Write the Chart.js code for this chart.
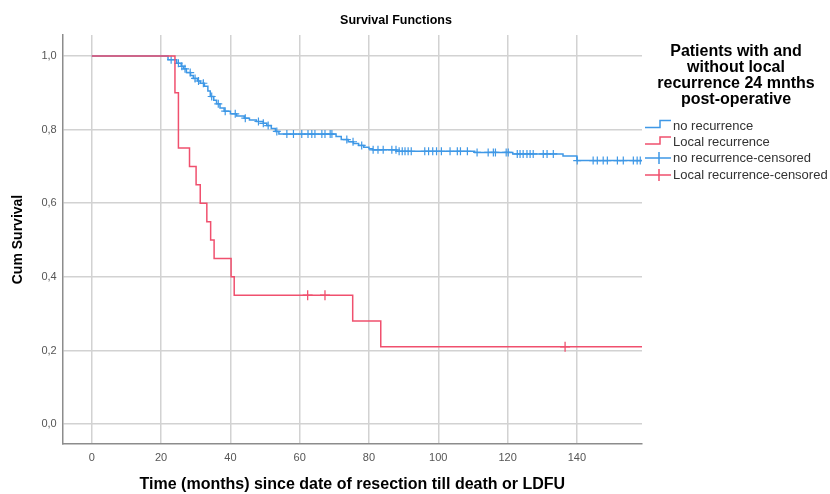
<!DOCTYPE html>
<html><head><meta charset="utf-8">
<script src="https://cdn.jsdelivr.net/npm/chart.js@4.4.0/dist/chart.umd.min.js"></script>
<style>
body{margin:0;background:#fff;}
#wrap{position:relative;width:830px;height:494px;font-family:"Liberation Sans",Arial,sans-serif;overflow:hidden;}
canvas{position:absolute;left:0;top:0;}
#title{position:absolute;left:296px;width:200px;top:12px;text-align:center;font-weight:bold;font-size:12.5px;line-height:16px;color:#000;}
#ltitle{position:absolute;left:640px;width:192px;top:43px;text-align:center;font-weight:bold;font-size:16px;line-height:16px;color:#000;}
.item{position:absolute;left:645px;height:16px;width:185px;font-size:13px;line-height:16px;color:#333;white-space:nowrap;}
.item svg{position:absolute;left:0;top:0;}
.item span{position:absolute;left:28px;top:0;}
</style>
</head><body>
<div id="wrap">
<canvas id="c" width="830" height="494"></canvas>
<div id="title">Survival Functions</div>
<div id="ltitle">Patients with and<br>without local<br>recurrence 24 mnths<br>post-operative</div>
<div class="item" style="top:118px"><svg width="26" height="16"><path d="M0 9.5 H15 V2.5 H26" fill="none" stroke="#3f98e6" stroke-width="1.5"/></svg><span>no recurrence</span></div>
<div class="item" style="top:134px"><svg width="26" height="16"><path d="M0 10 H15 V3 H26" fill="none" stroke="#f0506e" stroke-width="1.5"/></svg><span>Local recurrence</span></div>
<div class="item" style="top:150px"><svg width="26" height="16"><path d="M0 8 H26 M14 2 V14" fill="none" stroke="#3f98e6" stroke-width="1.5"/></svg><span>no recurrence-censored</span></div>
<div class="item" style="top:167px"><svg width="26" height="16"><path d="M0 8 H26 M14 2 V14" fill="none" stroke="#f0506e" stroke-width="1.5"/></svg><span>Local recurrence-censored</span></div>
</div>
<script>
// ---- data ----
const xTicks = [0, 20, 40, 60, 80, 100, 120, 140];
const yTicks = [0, 0.2, 0.4, 0.6, 0.8, 1.0];

const blueTimes = [0, 22, 24.5, 25.8, 26.5, 27.3, 28.5, 29.3, 30.5, 31.3, 32.5, 33.5, 34.2, 35.2, 36, 37, 38.2, 40, 41.8, 44, 45.5, 47.5, 49.5, 50.5, 51.8, 53, 54, 70.5, 72, 74, 75.5, 77, 78.5, 80, 81, 88, 110.5, 121.5, 136, 140, 158.8];
const blueSurv  = [1, 0.99, 0.98, 0.972, 0.965, 0.955, 0.947, 0.939, 0.932, 0.926, 0.918, 0.905, 0.89, 0.88, 0.87, 0.859, 0.85, 0.843, 0.837, 0.831, 0.826, 0.822, 0.817, 0.811, 0.803, 0.795, 0.788, 0.781, 0.773, 0.767, 0.762, 0.757, 0.752, 0.748, 0.745, 0.741, 0.738, 0.734, 0.728, 0.716, 0.716];

const blueCensT = [22.9, 25, 26, 26.9, 28.4, 29.8, 30.8, 32.2, 34.6, 36.5, 38.5, 41.4, 44.3, 48.1, 49.5, 50.9, 53.4,
  56.3, 58.2, 60.6, 62.4, 63.5, 64.4, 66.4, 67.3, 68.8, 69.3,
  73.6, 75.4, 77.9,
  81.2, 82.6, 84.1, 86.6, 87.8,
  88.7, 89.6, 90.4, 91.3, 92.2, 96.1, 97.2, 98.4, 99.5, 100.9, 103.4, 105.5, 106.4, 108.4,
  111.2, 114.4, 115.9, 116.5, 119.6, 120.2,
  122.8, 123.6, 124.5, 125.6, 126.5, 127.4, 130.3, 131.4, 133.2,
  140.1, 144.7, 145.9, 147.6, 148.8, 151.7, 153.4, 156.3, 157.4, 158.3];
const blueCensS = [0.99, 0.98, 0.972, 0.965, 0.955, 0.939, 0.932, 0.926, 0.89, 0.87, 0.85, 0.843, 0.831, 0.822, 0.817, 0.811, 0.795,
  0.788, 0.788, 0.788, 0.788, 0.788, 0.788, 0.788, 0.788, 0.788, 0.788,
  0.773, 0.767, 0.757,
  0.745, 0.745, 0.745, 0.745, 0.745,
  0.741, 0.741, 0.741, 0.741, 0.741, 0.741, 0.741, 0.741, 0.741, 0.741, 0.741, 0.741, 0.741, 0.741,
  0.738, 0.738, 0.738, 0.738, 0.738, 0.738,
  0.734, 0.734, 0.734, 0.734, 0.734, 0.734, 0.734, 0.734, 0.734,
  0.716, 0.716, 0.716, 0.716, 0.716, 0.716, 0.716, 0.716, 0.716, 0.716];

const redTimes = [0, 24, 25, 28.2, 30.1, 31.3, 33.2, 34.3, 35.3, 40.2, 41.1, 75.3, 83.4, 158.8];
const redSurv  = [1, 0.9, 0.75, 0.7, 0.65, 0.6, 0.55, 0.5, 0.45, 0.4, 0.35, 0.28, 0.21, 0.21];
const redCensT = [62.3, 67.3, 136.6];
const redCensS = [0.35, 0.35, 0.21];

const BLUE = '#3f98e6', RED = '#f0506e';
const FONT = '"Liberation Sans", Arial, sans-serif';
const pts = (xs, ys) => xs.map((x, i) => ({x: x, y: ys[i]}));

new Chart(document.getElementById('c'), {
  type: 'scatter',
  data: {
    datasets: [
      {label: 'Local recurrence', data: pts(redTimes, redSurv), showLine: true, stepped: 'before', borderColor: RED, borderWidth: 1.5, pointRadius: 0, order: 0},
      {label: 'Local recurrence-censored', data: pts(redCensT, redCensS), showLine: false, pointStyle: 'cross', pointRadius: 5, borderColor: RED, backgroundColor: RED, pointBorderWidth: 1.3, order: 1},
      {label: 'no recurrence-censored', data: pts(blueCensT, blueCensS), showLine: false, pointStyle: 'cross', pointRadius: 4, borderColor: BLUE, backgroundColor: BLUE, pointBorderWidth: 1.2, order: 2},
      {label: 'no recurrence', data: pts(blueTimes, blueSurv), showLine: true, stepped: 'before', borderColor: BLUE, borderWidth: 1.5, pointRadius: 0, order: 3}
    ]
  },
  options: {
    responsive: false, animation: false, devicePixelRatio: 1,
    layout: {padding: {top: 35, right: 188, left: 0, bottom: 0}},
    plugins: {legend: {display: false}, tooltip: {enabled: false}, title: {display: false}},
    scales: {
      x: {
        type: 'linear', min: -8.4, max: 158.8,
        afterBuildTicks: s => { s.ticks = xTicks.map(v => ({value: v})); },
        afterFit: s => { s.height = 50; },
        grid: {color: '#d2d2d2', lineWidth: 1.5, drawTicks: false},
        border: {display: true, color: '#8c8c8c', width: 1.5},
        ticks: {padding: 7, color: '#555', font: {size: 11, family: FONT}, callback: v => String(v), maxRotation: 0},
        title: {display: true, text: 'Time (months) since date of resection till death or LDFU', color: '#000', font: {size: 16, weight: 'bold', family: FONT}, padding: 0}
      },
      y: {
        type: 'linear', min: -0.054, max: 1.057,
        afterBuildTicks: s => { s.ticks = yTicks.map(v => ({value: v})); },
        afterFit: s => { s.width = 62.7; },
        grid: {color: '#d2d2d2', lineWidth: 1.5, drawTicks: false},
        border: {display: true, color: '#8c8c8c', width: 1.5},
        ticks: {padding: 6, color: '#555', font: {size: 11, family: FONT}, callback: v => v.toFixed(1).replace('.', ',')},
        title: {display: true, text: 'Cum Survival', color: '#000', font: {size: 14, weight: 'bold', family: FONT}, padding: {top: 10, bottom: 0}}
      }
    }
  }
});
</script>
</body></html>
